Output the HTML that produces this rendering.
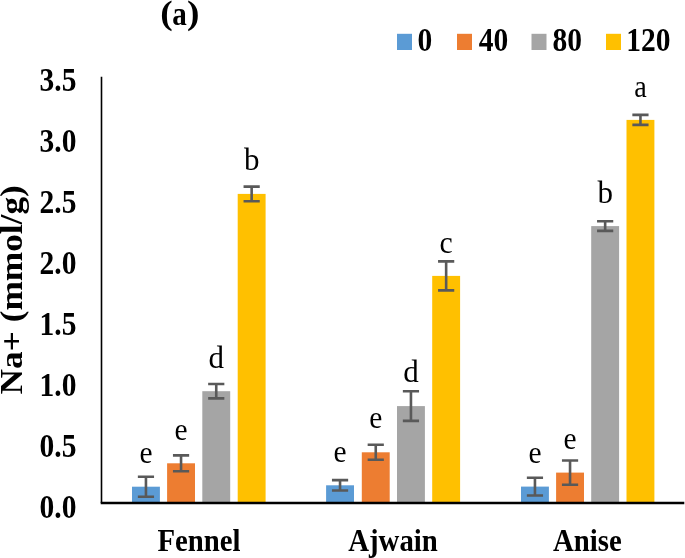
<!DOCTYPE html><html><head><meta charset="utf-8"><style>html,body{margin:0;padding:0;background:#fff;width:685px;height:558px;overflow:hidden}svg{display:block;will-change:transform}text{font-family:"Liberation Serif",serif}</style></head><body>
<svg width="685" height="558" viewBox="0 0 685 558">
<rect width="685" height="558" fill="#fff"/>
<rect x="132.00" y="486.70" width="27.9" height="16.30" fill="#5B9BD5"/>
<rect x="167.10" y="463.30" width="27.9" height="39.70" fill="#ED7D31"/>
<rect x="202.30" y="391.20" width="27.9" height="111.80" fill="#A5A5A5"/>
<rect x="237.70" y="193.90" width="27.9" height="309.10" fill="#FFC000"/>
<rect x="326.10" y="485.30" width="27.9" height="17.70" fill="#5B9BD5"/>
<rect x="361.80" y="452.30" width="27.9" height="50.70" fill="#ED7D31"/>
<rect x="397.00" y="406.10" width="27.9" height="96.90" fill="#A5A5A5"/>
<rect x="432.20" y="275.90" width="27.9" height="227.10" fill="#FFC000"/>
<rect x="521.00" y="486.60" width="27.9" height="16.40" fill="#5B9BD5"/>
<rect x="556.10" y="472.60" width="27.9" height="30.40" fill="#ED7D31"/>
<rect x="591.20" y="226.10" width="27.9" height="276.90" fill="#A5A5A5"/>
<rect x="626.50" y="119.90" width="27.9" height="383.10" fill="#FFC000"/>
<path d="M145.95 476.70V496.70M137.85 476.70H154.05M137.85 496.70H154.05" stroke="#595959" stroke-width="2.6" fill="none"/>
<path d="M181.05 455.40V471.20M172.95 455.40H189.15M172.95 471.20H189.15" stroke="#595959" stroke-width="2.6" fill="none"/>
<path d="M216.25 384.00V398.40M208.15 384.00H224.35M208.15 398.40H224.35" stroke="#595959" stroke-width="2.6" fill="none"/>
<path d="M251.65 186.60V201.20M243.55 186.60H259.75M243.55 201.20H259.75" stroke="#595959" stroke-width="2.6" fill="none"/>
<path d="M340.05 480.10V490.50M331.95 480.10H348.15M331.95 490.50H348.15" stroke="#595959" stroke-width="2.6" fill="none"/>
<path d="M375.75 444.80V459.80M367.65 444.80H383.85M367.65 459.80H383.85" stroke="#595959" stroke-width="2.6" fill="none"/>
<path d="M410.95 391.30V420.90M402.85 391.30H419.05M402.85 420.90H419.05" stroke="#595959" stroke-width="2.6" fill="none"/>
<path d="M446.15 261.40V290.40M438.05 261.40H454.25M438.05 290.40H454.25" stroke="#595959" stroke-width="2.6" fill="none"/>
<path d="M534.95 477.70V495.50M526.85 477.70H543.05M526.85 495.50H543.05" stroke="#595959" stroke-width="2.6" fill="none"/>
<path d="M570.05 460.50V484.70M561.95 460.50H578.15M561.95 484.70H578.15" stroke="#595959" stroke-width="2.6" fill="none"/>
<path d="M605.15 221.30V230.90M597.05 221.30H613.25M597.05 230.90H613.25" stroke="#595959" stroke-width="2.6" fill="none"/>
<path d="M640.45 114.90V124.90M632.35 114.90H648.55M632.35 124.90H648.55" stroke="#595959" stroke-width="2.6" fill="none"/>
<text transform="translate(145.95 462.80) scale(0.95 1.03)" font-size="31" text-anchor="middle">e</text>
<text transform="translate(181.05 439.95) scale(0.95 1.03)" font-size="31" text-anchor="middle">e</text>
<text transform="translate(216.25 368.05) scale(1.0 1.0)" font-size="31" text-anchor="middle">d</text>
<text transform="translate(251.65 169.85) scale(1.0 1.0)" font-size="31" text-anchor="middle">b</text>
<text transform="translate(340.05 462.15) scale(0.95 1.03)" font-size="31" text-anchor="middle">e</text>
<text transform="translate(375.75 428.45) scale(0.95 1.03)" font-size="31" text-anchor="middle">e</text>
<text transform="translate(410.95 382.00) scale(1.0 1.0)" font-size="31" text-anchor="middle">d</text>
<text transform="translate(446.15 252.55) scale(0.96 1.03)" font-size="31" text-anchor="middle">c</text>
<text transform="translate(534.95 463.15) scale(0.95 1.03)" font-size="31" text-anchor="middle">e</text>
<text transform="translate(570.05 449.45) scale(0.95 1.03)" font-size="31" text-anchor="middle">e</text>
<text transform="translate(605.15 203.30) scale(1.0 1.0)" font-size="31" text-anchor="middle">b</text>
<text transform="translate(640.45 96.60) scale(0.91 1.03)" font-size="31" text-anchor="middle">a</text>
<path d="M101.5 76.7V503" stroke="#000" stroke-width="1.6" fill="none"/>
<path d="M100.7 503H684.3" stroke="#000" stroke-width="2.7" fill="none"/>
<text transform="translate(76.5 517.60) scale(1 1.137)" font-size="29.5" font-weight="bold" text-anchor="end">0.0</text>
<text transform="translate(76.5 456.70) scale(1 1.137)" font-size="29.5" font-weight="bold" text-anchor="end">0.5</text>
<text transform="translate(76.5 395.80) scale(1 1.137)" font-size="29.5" font-weight="bold" text-anchor="end">1.0</text>
<text transform="translate(76.5 334.90) scale(1 1.137)" font-size="29.5" font-weight="bold" text-anchor="end">1.5</text>
<text transform="translate(76.5 274.00) scale(1 1.137)" font-size="29.5" font-weight="bold" text-anchor="end">2.0</text>
<text transform="translate(76.5 213.10) scale(1 1.137)" font-size="29.5" font-weight="bold" text-anchor="end">2.5</text>
<text transform="translate(76.5 152.20) scale(1 1.137)" font-size="29.5" font-weight="bold" text-anchor="end">3.0</text>
<text transform="translate(76.5 91.30) scale(1 1.137)" font-size="29.5" font-weight="bold" text-anchor="end">3.5</text>
<text transform="translate(199 551) scale(1 1.075)" font-size="28.8" font-weight="bold" text-anchor="middle">Fennel</text>
<text transform="translate(393 551) scale(1 1.075)" font-size="28.8" font-weight="bold" text-anchor="middle">Ajwain</text>
<text transform="translate(587.4 551) scale(1 1.075)" font-size="28.8" font-weight="bold" text-anchor="middle">Anise</text>
<rect x="397" y="33.8" width="15" height="16.2" fill="#5B9BD5"/>
<text transform="translate(417.6 50.5) scale(1 1.137)" font-size="29.5" font-weight="bold">0</text>
<rect x="457" y="33.8" width="15" height="16.2" fill="#ED7D31"/>
<text transform="translate(478.7 50.5) scale(1 1.137)" font-size="29.5" font-weight="bold">40</text>
<rect x="531.5" y="33.8" width="15" height="16.2" fill="#A5A5A5"/>
<text transform="translate(552.6 50.5) scale(1 1.137)" font-size="29.5" font-weight="bold">80</text>
<rect x="606" y="33.8" width="15" height="16.2" fill="#FFC000"/>
<text transform="translate(626.3 50.5) scale(1 1.137)" font-size="29.5" font-weight="bold">120</text>
<text transform="translate(160.3 24.15) scale(1.1 1)" font-size="34" font-weight="bold">(</text>
<text transform="translate(186.9 24.15) scale(1.1 1)" font-size="34" font-weight="bold">)</text>
<text transform="translate(172.3 24.6) scale(0.856 1.02)" font-size="34" font-weight="bold">a</text>
<text transform="translate(22.2 394.4) rotate(-90) scale(1.157 1)" font-size="30.5" font-weight="bold">Na+ (mmol/g)</text>
</svg></body></html>
